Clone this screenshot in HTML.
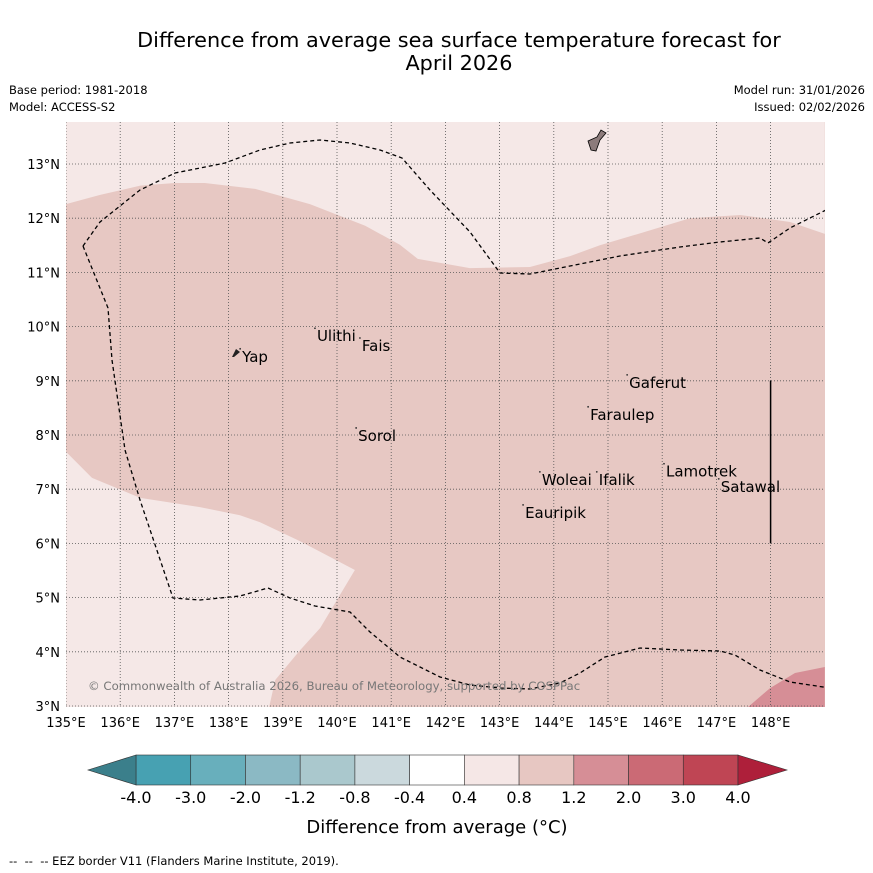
<!DOCTYPE html>
<html><head><meta charset="utf-8">
<style>
html,body{margin:0;padding:0;background:#fff;}
svg{display:block;font-family:"DejaVu Sans","Liberation Sans",sans-serif;}
</style></head>
<body>
<svg id="chart" width="873" height="873" viewBox="0 0 873 873" xmlns="http://www.w3.org/2000/svg">
<rect width="873" height="873" fill="#fff"/>
<text x="459" y="47" font-size="20.8" text-anchor="middle">Difference from average sea surface temperature forecast for</text>
<text x="459" y="70" font-size="20.8" text-anchor="middle">April 2026</text>
<text x="9" y="94" font-size="11.5">Base period: 1981-2018</text>
<text x="9" y="111" font-size="11.5">Model: ACCESS-S2</text>
<text x="865" y="94" font-size="11.5" text-anchor="end">Model run: 31/01/2026</text>
<text x="865" y="111" font-size="11.5" text-anchor="end">Issued: 02/02/2026</text>
<defs><clipPath id="mapclip"><rect x="66" y="122" width="759" height="585"/></clipPath></defs>
<g id="map" clip-path="url(#mapclip)"></g>
<g id="axes"></g>
<g id="cbar"></g>
<text x="437" y="833" font-size="18" text-anchor="middle">Difference from average (°C)</text>
<text x="9" y="865" font-size="11.5">-- &#160;-- &#160;-- EEZ border V11 (Flanders Marine Institute, 2019).</text>
</svg>
<script>
const lonTicks=[135,136,137,138,139,140,141,142,143,144,145,146,147,148];
const latTicks=[3,4,5,6,7,8,9,10,11,12,13];
const cbLevels=["-4.0","-3.0","-2.0","-1.2","-0.8","-0.4","0.4","0.8","1.2","2.0","3.0","4.0"];
const cbColors=["#47a1b2","#68afbc","#8bb9c4","#aac8cd","#cbd9dd","#ffffff","#f5e7e6","#e7c7c2","#d68e96","#cb6a75","#bf4554"];
const cbLow="#3b7f8b", cbHigh="#ae1f3a";
const topLight=[[135,12.26],[135.63,12.43],[136.37,12.6],[137.01,12.65],[137.56,12.65],[138.49,12.54],[139.5,12.26],[140.52,11.86],[141.16,11.51],[141.49,11.25],[142.45,11.08],[143.56,11.1],[144.3,11.3],[144.85,11.5],[145.59,11.72],[146.51,12.0],[147.44,12.06],[148.36,11.93],[149,11.71],[149,14],[135,14]];
const swLight=[[135,7.69],[135.48,7.21],[136.37,6.84],[137.47,6.67],[138.21,6.52],[138.58,6.39],[139.32,6.04],[140.33,5.51],[139.69,4.44],[139.32,4.03],[138.86,3.48],[138.73,2.9],[135,2.9]];
const seWarm=[[147.49,2.9],[147.99,3.33],[148.45,3.61],[149,3.72],[149,2.9]];
// name, label lon, label baseline lat
const islands=[["Yap",138.25,9.35],["Ulithi",139.63,9.73],["Fais",140.46,9.55],["Gaferut",145.39,8.87],["Faraulep",144.67,8.28],["Sorol",140.39,7.89],["Woleai",143.78,7.08],["Ifalik",144.83,7.08],["Lamotrek",146.07,7.23],["Satawal",147.08,6.95],["Eauripik",143.47,6.47]];
const eezPix=[[83,246],[100,222],[140,190],[175,173],[225,163],[260,150],[290,143],[320,140],[350,143],[380,150],[402,158],[430,190],[470,232],[500,273],[530,274],[570,266],[620,256],[680,247],[720,242],[760,238],[768,243],[790,228],[830,208]];
const eezPix2=[[83,246],[108,308],[112,360],[125,450],[140,500],[173,598],[200,600],[240,596],[268,588],[290,598],[315,606],[350,612],[370,632],[400,657],[440,677],[470,685],[500,688],[530,689],[560,683],[580,673],[605,657],[640,648],[680,650],[720,651],[735,655],[760,670],[790,682],[830,688]];
const NS="http://www.w3.org/2000/svg";
const X=l=>66+(l-135)*54.2, Y=t=>706-(t-3)*54.2;
function mk(tag,attrs,parent,txt){const e=document.createElementNS(NS,tag);for(const k in attrs)e.setAttribute(k,attrs[k]);if(txt!==undefined)e.textContent=txt;parent.appendChild(e);return e;}
const map=document.getElementById('map'), axes=document.getElementById('axes'), cb=document.getElementById('cbar');
let bg=mk('rect',{x:66,y:122,width:759,height:585,fill:"#e7c8c3"},map);


function poly(pts,fill,name){const p=mk('polygon',{points:pts.map(q=>X(q[0])+','+Y(q[1])).join(' '),fill:fill},map);

}
poly(topLight,"#f5e8e7","anomaly-0.4-0.8-north");
poly(swLight,"#f5e8e7","anomaly-0.4-0.8-southwest");
poly(seWarm,"#d68e96","anomaly-1.2-2.0-southeast");
lonTicks.forEach(l=>{const g=mk('line',{x1:X(l),x2:X(l),y1:122,y2:707,stroke:"#555","stroke-width":0.8,"stroke-dasharray":"1,2"},map);


const t=mk('text',{x:X(l),y:727,"font-size":13,"text-anchor":"middle"},axes,l+"°E");

});
latTicks.forEach(t0=>{const g=mk('line',{x1:66,x2:825,y1:Y(t0),y2:Y(t0),stroke:"#555","stroke-width":0.8,"stroke-dasharray":"1,2"},map);


const t=mk('text',{x:60,y:Y(t0)+5,"font-size":13,"text-anchor":"end"},axes,t0+"°N");

});
[eezPix,eezPix2].forEach(a=>{const p=mk('polyline',{points:a.map(q=>q.join(',')).join(' '),fill:"none",stroke:"#000","stroke-width":1.3,"stroke-dasharray":"4,3"},map);

});
const guam=mk('path',{d:"M588,141 L597,137 L601,130 L606,133 L600,140 L596,151 L591,150 Z",fill:"#8c7b7b",stroke:"#000","stroke-width":0.8},map);


const yap=mk('path',{d:"M232,357 L236,349 L240,352 L234,357 Z",fill:"#222"},map);


const vl=mk('line',{x1:X(148),x2:X(148),y1:Y(9),y2:Y(6),stroke:"#000","stroke-width":1.5},map);


islands.forEach(s=>{const d=mk('circle',{cx:X(s[1])-2,cy:Y(s[2])-13,r:0.9,fill:"#333"},map);


const t=mk('text',{x:X(s[1]),y:Y(s[2]),"font-size":15},map,s[0]);

});
const cr=mk('text',{x:88,y:690,"font-size":11.7,fill:"#777"},map,"© Commonwealth of Australia 2026, Bureau of Meteorology, supported by COSPPac");


// colorbar
const cx0=136,cx1=738,cy0=755,cy1=785,w=(cx1-cx0)/cbColors.length;
cbColors.forEach((c,i)=>{const r=mk('rect',{x:cx0+i*w,y:cy0,width:w,height:cy1-cy0,fill:c,stroke:"#333","stroke-width":0.6},cb);

});
const al=mk('polygon',{points:`${cx0},${cy0} 88,770 ${cx0},${cy1}`,fill:cbLow,stroke:"#333","stroke-width":0.6},cb);


const ah=mk('polygon',{points:`${cx1},${cy0} 787,770 ${cx1},${cy1}`,fill:cbHigh,stroke:"#333","stroke-width":0.6},cb);


cbLevels.forEach((v,i)=>{const t=mk('text',{x:cx0+i*w,y:803,"font-size":16,"text-anchor":"middle"},cb,v);

});
</script>
</body></html>
